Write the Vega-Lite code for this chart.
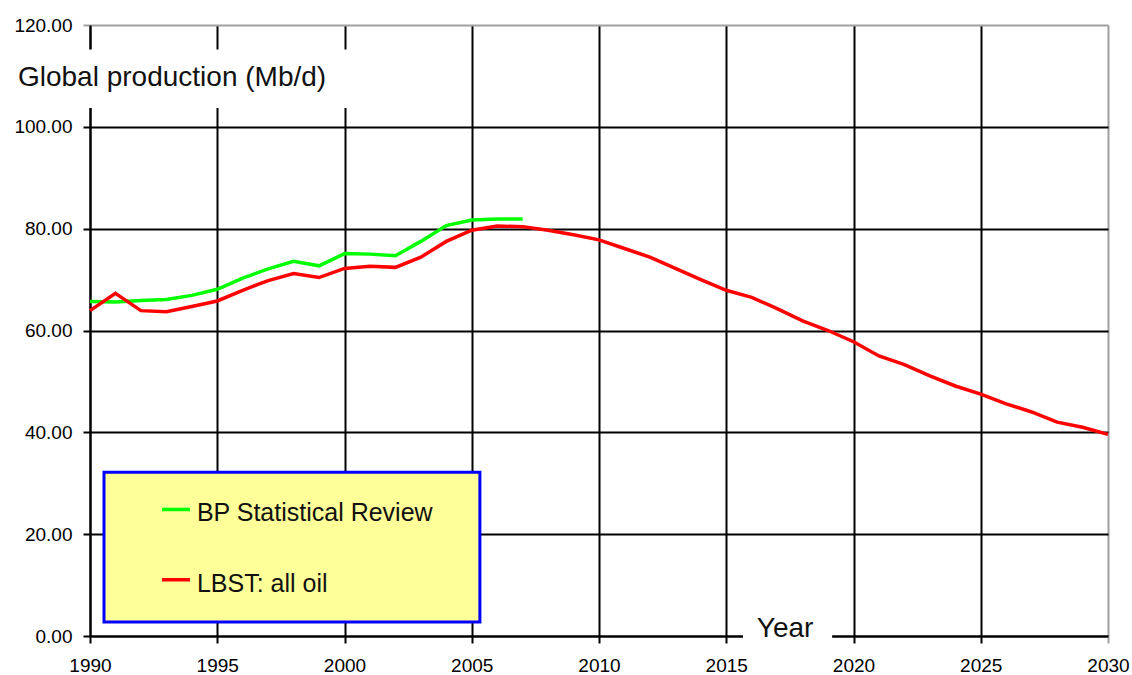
{
  "$schema": "https://vega.github.io/schema/vega-lite/v6.json",
  "autosize": {"type": "none"},
  "padding": {"left": 90, "top": 25, "right": 24, "bottom": 39},
  "width": 1018,
  "height": 611,
  "background": "white",
  "config": {
    "view": {"stroke": null},
    "font": "Liberation Sans",
    "axis": {
      "labelFont": "Liberation Sans",
      "labelColor": "black",
      "domainColor": "black",
      "domainWidth": 2,
      "tickColor": "black",
      "tickWidth": 2,
      "tickSize": 7,
      "gridWidth": 2,
      "title": null
    }
  },
  "datasets": {
    "series": [
      {"year": 1990, "series": "BP Statistical Review", "value": 65.7},
      {"year": 1991, "series": "BP Statistical Review", "value": 65.6},
      {"year": 1992, "series": "BP Statistical Review", "value": 65.9},
      {"year": 1993, "series": "BP Statistical Review", "value": 66.1},
      {"year": 1994, "series": "BP Statistical Review", "value": 66.9},
      {"year": 1995, "series": "BP Statistical Review", "value": 68.1},
      {"year": 1996, "series": "BP Statistical Review", "value": 70.3},
      {"year": 1997, "series": "BP Statistical Review", "value": 72.1},
      {"year": 1998, "series": "BP Statistical Review", "value": 73.6},
      {"year": 1999, "series": "BP Statistical Review", "value": 72.7},
      {"year": 2000, "series": "BP Statistical Review", "value": 75.1},
      {"year": 2001, "series": "BP Statistical Review", "value": 75.0},
      {"year": 2002, "series": "BP Statistical Review", "value": 74.7},
      {"year": 2003, "series": "BP Statistical Review", "value": 77.5},
      {"year": 2004, "series": "BP Statistical Review", "value": 80.6},
      {"year": 2005, "series": "BP Statistical Review", "value": 81.7},
      {"year": 2006, "series": "BP Statistical Review", "value": 81.9},
      {"year": 2007, "series": "BP Statistical Review", "value": 81.9},
      {"year": 1990, "series": "LBST: all oil", "value": 63.9},
      {"year": 1991, "series": "LBST: all oil", "value": 67.3},
      {"year": 1992, "series": "LBST: all oil", "value": 63.9},
      {"year": 1993, "series": "LBST: all oil", "value": 63.7},
      {"year": 1994, "series": "LBST: all oil", "value": 64.7},
      {"year": 1995, "series": "LBST: all oil", "value": 65.8},
      {"year": 1996, "series": "LBST: all oil", "value": 67.9},
      {"year": 1997, "series": "LBST: all oil", "value": 69.8},
      {"year": 1998, "series": "LBST: all oil", "value": 71.2},
      {"year": 1999, "series": "LBST: all oil", "value": 70.4},
      {"year": 2000, "series": "LBST: all oil", "value": 72.2},
      {"year": 2001, "series": "LBST: all oil", "value": 72.6},
      {"year": 2002, "series": "LBST: all oil", "value": 72.4},
      {"year": 2003, "series": "LBST: all oil", "value": 74.4},
      {"year": 2004, "series": "LBST: all oil", "value": 77.5},
      {"year": 2005, "series": "LBST: all oil", "value": 79.7},
      {"year": 2006, "series": "LBST: all oil", "value": 80.5},
      {"year": 2007, "series": "LBST: all oil", "value": 80.4},
      {"year": 2008, "series": "LBST: all oil", "value": 79.7},
      {"year": 2009, "series": "LBST: all oil", "value": 78.8},
      {"year": 2010, "series": "LBST: all oil", "value": 77.8},
      {"year": 2011, "series": "LBST: all oil", "value": 76.1},
      {"year": 2012, "series": "LBST: all oil", "value": 74.4},
      {"year": 2013, "series": "LBST: all oil", "value": 72.2},
      {"year": 2014, "series": "LBST: all oil", "value": 70.0},
      {"year": 2015, "series": "LBST: all oil", "value": 67.9},
      {"year": 2016, "series": "LBST: all oil", "value": 66.5},
      {"year": 2017, "series": "LBST: all oil", "value": 64.3},
      {"year": 2018, "series": "LBST: all oil", "value": 61.9},
      {"year": 2019, "series": "LBST: all oil", "value": 60.0},
      {"year": 2020, "series": "LBST: all oil", "value": 57.8},
      {"year": 2021, "series": "LBST: all oil", "value": 55.0},
      {"year": 2022, "series": "LBST: all oil", "value": 53.3},
      {"year": 2023, "series": "LBST: all oil", "value": 51.1},
      {"year": 2024, "series": "LBST: all oil", "value": 49.1},
      {"year": 2025, "series": "LBST: all oil", "value": 47.5},
      {"year": 2026, "series": "LBST: all oil", "value": 45.6},
      {"year": 2027, "series": "LBST: all oil", "value": 44.0},
      {"year": 2028, "series": "LBST: all oil", "value": 42.0},
      {"year": 2029, "series": "LBST: all oil", "value": 41.0},
      {"year": 2030, "series": "LBST: all oil", "value": 39.6}
    ],
    "legendItems": [
      {"series": "BP Statistical Review", "x0": 1992.83, "x1": 1993.93, "y": 24.85, "ty": 22.5},
      {"series": "LBST: all oil", "x0": 1992.83, "x1": 1993.93, "y": 11.05, "ty": 8.7}
    ]
  },
  "layer": [
    {
      "data": {"name": "series"},
      "mark": {"type": "line", "strokeWidth": 3.5, "interpolate": "linear"},
      "encoding": {
        "x": {
          "field": "year", "type": "quantitative",
          "scale": {"domain": [1990, 2030], "nice": false, "zero": false},
          "axis": {
            "values": [1990, 1995, 2000, 2005, 2010, 2015, 2020, 2025, 2030],
            "format": "d",
            "labelFontSize": 19,
            "labelPadding": 13,
            "labelFlush": false,
            "grid": true,
            "gridColor": {"condition": {"test": "datum.value == 2030", "value": "#a0a0a0"}, "value": "black"},
            "tickColor": {"condition": {"test": "datum.value == 2030", "value": "#a0a0a0"}, "value": "black"}
          }
        },
        "y": {
          "field": "value", "type": "quantitative",
          "scale": {"domain": [0, 120], "nice": false},
          "axis": {
            "values": [0, 20, 40, 60, 80, 100, 120],
            "format": ".2f",
            "labelFontSize": 19,
            "labelPadding": 11,
            "grid": true,
            "gridColor": {"condition": {"test": "datum.value == 120", "value": "#a0a0a0"}, "value": "black"},
            "tickColor": {"condition": {"test": "datum.value == 120", "value": "#a0a0a0"}, "value": "black"}
          }
        },
        "color": {
          "field": "series", "type": "nominal",
          "scale": {"domain": ["BP Statistical Review", "LBST: all oil"], "range": ["#00ff00", "#ff0000"]},
          "legend": null
        }
      }
    },
    {
      "data": {"values": [{}]},
      "mark": {"type": "rect", "fill": "white", "stroke": null},
      "encoding": {
        "x": {"datum": 1986.9, "type": "quantitative"},
        "x2": {"datum": 2000.3},
        "y": {"datum": 103.7, "type": "quantitative"},
        "y2": {"datum": 115.2}
      }
    },
    {
      "data": {"values": [{}]},
      "mark": {"type": "rect", "fill": "white", "stroke": null},
      "encoding": {
        "x": {"datum": 2015.66, "type": "quantitative"},
        "x2": {"datum": 2019.16},
        "y": {"datum": -0.8, "type": "quantitative"},
        "y2": {"datum": 5.3}
      }
    },
    {
      "data": {"values": [{}]},
      "mark": {"type": "text", "text": "Global production (Mb/d)", "align": "left", "baseline": "alphabetic", "fontSize": 28, "color": "#111111", "font": "Liberation Sans"},
      "encoding": {
        "x": {"datum": 1987.17, "type": "quantitative"},
        "y": {"datum": 108.1, "type": "quantitative"}
      }
    },
    {
      "data": {"values": [{}]},
      "mark": {"type": "text", "text": "Year", "align": "left", "baseline": "alphabetic", "fontSize": 28, "color": "#111111", "font": "Liberation Sans"},
      "encoding": {
        "x": {"datum": 2016.2, "type": "quantitative"},
        "y": {"datum": -0.2, "type": "quantitative"}
      }
    },
    {
      "data": {"values": [{}]},
      "mark": {"type": "rect", "fill": "#ffff99", "stroke": "#0000ff", "strokeWidth": 3},
      "encoding": {
        "x": {"datum": 1990.55, "type": "quantitative"},
        "x2": {"datum": 2005.32},
        "y": {"datum": 2.76, "type": "quantitative"},
        "y2": {"datum": 32.15}
      }
    },
    {
      "data": {"name": "legendItems"},
      "mark": {"type": "rule", "strokeWidth": 3.5},
      "encoding": {
        "x": {"field": "x0", "type": "quantitative"},
        "x2": {"field": "x1"},
        "y": {"field": "y", "type": "quantitative"},
        "color": {"field": "series", "type": "nominal", "legend": null}
      }
    },
    {
      "data": {"name": "legendItems"},
      "mark": {"type": "text", "align": "left", "baseline": "alphabetic", "fontSize": 25, "color": "#111111", "font": "Liberation Sans"},
      "encoding": {
        "x": {"datum": 1994.2, "type": "quantitative"},
        "y": {"field": "ty", "type": "quantitative"},
        "text": {"field": "series"}
      }
    }
  ]
}
